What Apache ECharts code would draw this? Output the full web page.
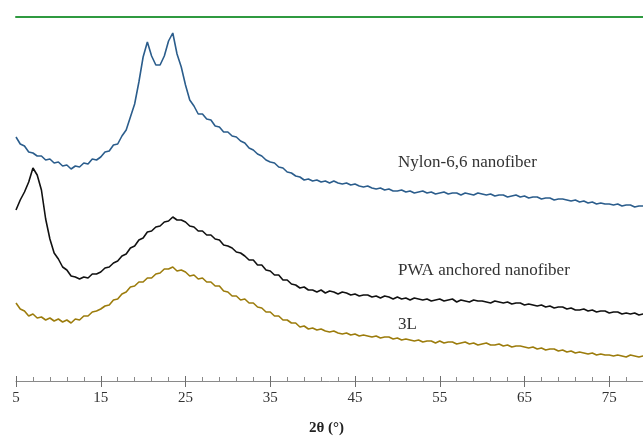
<!DOCTYPE html>
<html>
<head>
<meta charset="utf-8">
<script src="https://cdn.jsdelivr.net/npm/echarts@6/dist/echarts.min.js"></script>
<style>
html, body { margin: 0; padding: 0; background: #fff; }
#chart { width: 643px; height: 440px; }
</style>
</head>
<body>
<div id="chart"></div>
<script>
// 2θ sampling positions (every 0.5°, 5 .. 79)
var theta = [];
for (var t = 5; t <= 79; t += 0.5) theta.push(t);

// intensities (a.u.), one value per theta
var nylon = [
  244, 237, 235, 229, 228, 225, 225, 221, 222, 218,
  219, 215, 216, 212, 215, 214, 218, 217, 222, 221,
  224, 229, 230, 236, 237, 245, 251, 264, 277, 299,
  324, 339, 325, 316, 316, 325, 340, 348, 327, 314,
  296, 281, 275, 267, 267, 262, 261, 255, 254, 249,
  249, 245, 244, 240, 238, 233, 231, 227, 225, 221,
  219, 218, 214, 213, 209, 208, 205, 204, 201, 202,
  200, 201, 199, 200, 198, 200, 198, 197, 198, 196,
  197, 195, 194, 195, 193, 192, 193, 191, 192, 190,
  190, 191, 189, 190, 188, 189, 190, 188, 189, 187,
  188, 189, 187, 188, 188, 186, 188, 187, 186, 188,
  187, 186, 187, 185, 186, 186, 184, 185, 186, 184,
  185, 183, 184, 184, 182, 183, 183, 181, 182, 182,
  181, 180, 181, 179, 180, 178, 179, 177, 178, 177,
  177, 176, 177, 175, 176, 176, 174, 175, 175
];

var pwa = [
  171, 181, 189, 199, 213, 206, 191, 162, 142, 128,
  122, 114, 111, 105, 104, 102, 104, 103, 107, 107,
  109, 113, 114, 118, 120, 125, 127, 133, 135, 141,
  143, 149, 150, 154, 155, 159, 160, 164, 161, 161,
  159, 155, 154, 150, 150, 146, 146, 142, 141, 136,
  135, 133, 129, 128, 125, 121, 121, 116, 116, 111,
  110, 106, 106, 101, 101, 97, 96, 93, 94, 91,
  91, 89, 91, 88, 90, 89, 87, 89, 88, 86,
  87, 85, 86, 86, 84, 85, 83, 85, 84, 82,
  84, 82, 83, 81, 83, 82, 81, 82, 80, 81,
  82, 80, 81, 82, 79, 81, 80, 79, 81, 80,
  80, 79, 78, 80, 79, 78, 79, 77, 78, 78,
  76, 77, 76, 75, 76, 74, 75, 73, 74, 74,
  72, 73, 71, 71, 72, 70, 71, 69, 70, 70,
  68, 69, 69, 67, 68, 67, 68, 66, 67
];

var threeL = [
  78, 72, 70, 65, 67, 63, 64, 61, 63, 60,
  62, 59, 61, 58, 62, 61, 65, 65, 69, 70,
  72, 75, 76, 81, 82, 87, 89, 94, 95, 99,
  99, 103, 103, 107, 108, 112, 112, 114, 110, 111,
  109, 105, 106, 102, 103, 99, 99, 95, 95, 90,
  89, 85, 85, 81, 82, 78, 78, 74, 73, 69,
  69, 65, 65, 61, 61, 58, 58, 54, 55, 52,
  53, 51, 52, 50, 49, 50, 48, 47, 48, 46,
  47, 45, 46, 45, 44, 45, 43, 44, 44, 42,
  43, 41, 42, 41, 40, 41, 39, 40, 40, 38,
  40, 38, 39, 39, 37, 38, 39, 37, 38, 36,
  37, 38, 36, 36, 37, 35, 36, 34, 35, 35,
  34, 33, 34, 32, 33, 31, 32, 32, 30, 31,
  29, 30, 28, 29, 28, 27, 28, 26, 27, 26,
  26, 25, 26, 25, 24, 26, 25, 24, 25
];

var seriesNames = ['Nylon-6,6 nanofiber', 'PWA anchored nanofiber', '3L'];

function pairs(vals) {
  return vals.map(function (v, i) { return [theta[i], v]; });
}

var chart = echarts.init(document.getElementById('chart'));

// the plot runs past the right edge of the picture (axis is cut near 79)
var option = {
  animation: false,
  backgroundColor: '#fff',
  grid: { left: 16, width: 678, top: 17, bottom: 59, outerBoundsMode: 'none', containLabel: false },
  xAxis: [
    {
      type: 'value', min: 5, max: 85, interval: 10, position: 'bottom',
      axisLine: { lineStyle: { color: '#8a8a8a', width: 1 } },
      axisTick: { length: 6, lineStyle: { color: '#6e6e6e' } },
      axisLabel: {
        color: '#333', fontFamily: 'Liberation Serif', fontSize: 15, margin: 10,
        showMaxLabel: false
      },
      splitLine: { show: false }
    },
    {
      type: 'value', min: 5, max: 85, interval: 10, position: 'bottom',
      axisLine: { show: false },
      axisTick: { inside: true, length: 5, lineStyle: { color: '#6e6e6e' } },
      minorTick: { show: true, splitNumber: 5, length: 4, lineStyle: { color: '#8a8a8a' } },
      axisLabel: { show: false },
      splitLine: { show: false }
    },
    {
      type: 'value', min: 5, max: 85, position: 'top',
      axisLine: { lineStyle: { color: '#2f9a40', width: 2 } },
      axisTick: { show: false },
      axisLabel: { show: false },
      splitLine: { show: false }
    }
  ],
  yAxis: { type: 'value', min: 0, max: 364, show: false },
  series: [
    {
      name: seriesNames[0], type: 'line', xAxisIndex: 0, showSymbol: false,
      lineStyle: { color: '#2b5d8c', width: 1.6 }, data: pairs(nylon)
    },
    {
      name: seriesNames[1], type: 'line', xAxisIndex: 0, showSymbol: false,
      lineStyle: { color: '#111', width: 1.6 }, data: pairs(pwa)
    },
    {
      name: seriesNames[2], type: 'line', xAxisIndex: 0, showSymbol: false,
      lineStyle: { color: '#9c7c0c', width: 1.6 }, data: pairs(threeL)
    }
  ],
  graphic: [
    { type: 'text', left: 398, top: 154, style: { text: seriesNames[0], fill: '#333', font: '17px "Liberation Serif"' } },
    { type: 'text', left: 398, top: 262, style: { text: seriesNames[1], fill: '#333', font: '17px "Liberation Serif"' } },
    { type: 'text', left: 398, top: 316, style: { text: seriesNames[2], fill: '#333', font: '17px "Liberation Serif"' } },
    { type: 'text', left: 309, top: 421, style: { text: '2θ (°)', fill: '#222', font: 'bold 15px "Liberation Serif"' } }
  ]
};

chart.setOption(option);
</script>
</body>
</html>
